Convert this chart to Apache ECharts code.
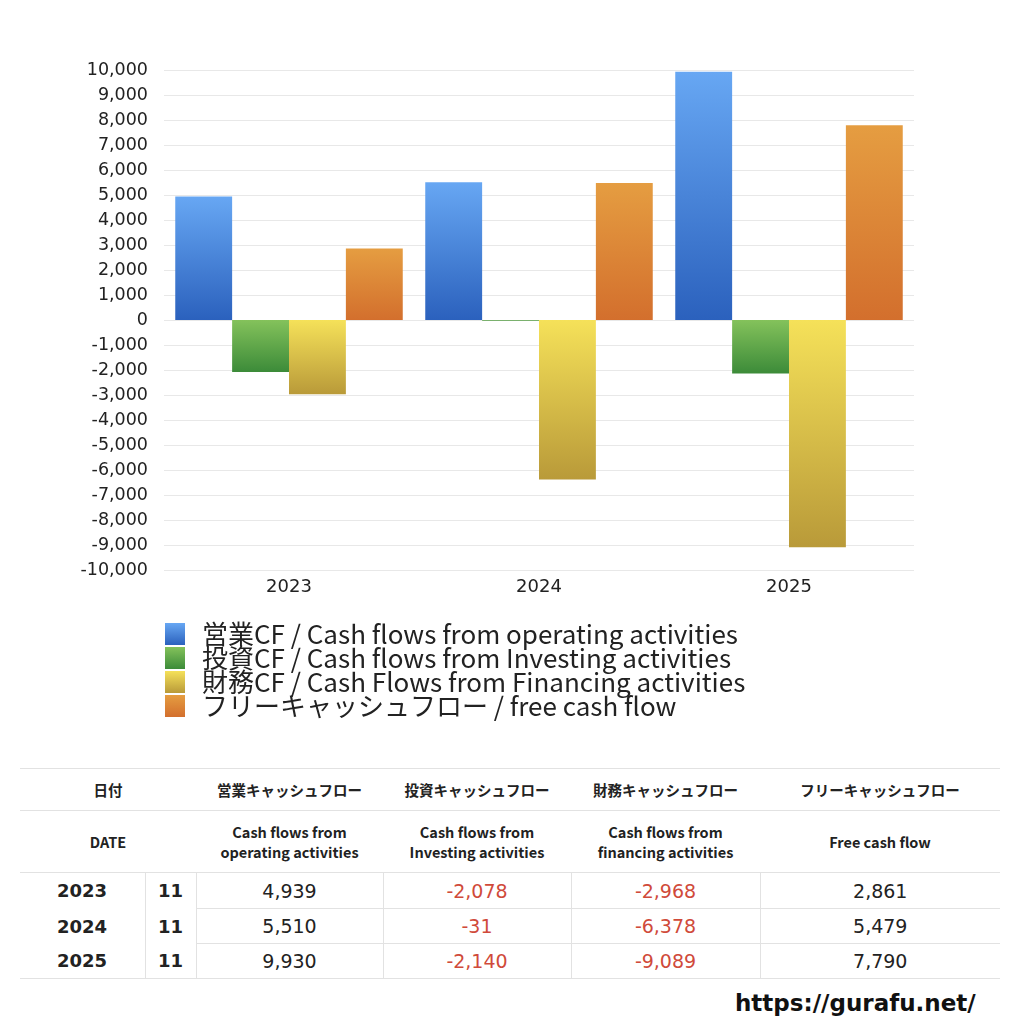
<!DOCTYPE html>
<html>
<head>
<meta charset="utf-8">
<script src="https://cdn.jsdelivr.net/npm/echarts@6/dist/echarts.min.js"></script>
<style>
body{margin:0;background:#fff;font-family:"Noto Sans CJK JP","Noto Sans",sans-serif;}
#main{position:absolute;left:0;top:0;width:1024px;height:745px;}
#tbl{position:absolute;left:20px;top:768px;width:980px;border-collapse:collapse;color:#222;table-layout:fixed;}
#tbl td{text-align:center;padding:0;}
#tbl tr.h td{font-size:14.5px;font-weight:bold;border-top:1px solid #e2e2e2;}
#tbl tr.h1 td{height:41px;}
#tbl tr.h2 td{height:61px;line-height:20px;}
#tbl tr.d td{height:34px;font-size:19px;font-family:"DejaVu Sans",sans-serif;}
#tbl tr.d1 td{height:35px;}
#tbl td.y{font-weight:bold;font-size:18px !important;text-align:left;padding-left:37px;}
#tbl td.m{font-weight:bold;font-size:18px !important;border-left:1px solid #e2e2e2;border-right:1px solid #e2e2e2;}
#tbl td.v{border-top:1px solid #e2e2e2;border-left:1px solid #e2e2e2;}
#tbl td.neg{color:#d04a3a;}
#tbl tr.last td{border-bottom:1px solid #e2e2e2;}
#url{position:absolute;left:735px;top:990px;font-size:23px;font-weight:bold;color:#111;font-family:"DejaVu Sans","Noto Sans",sans-serif;}
</style>
</head>
<body>
<div id="main"></div>
<table id="tbl"></table>
<div id="url">https://gurafu.net/</div>
<script>
// データ
var years = ['2023', '2024', '2025'];
var months = ['11', '11', '11'];
var operating = [4939, 5510, 9930];
var investing = [-2078, -31, -2140];
var financing = [-2968, -6378, -9089];
var freeCF = [2861, 5479, 7790];
var seriesNames = [
    '営業CF / Cash flows from operating activities',
    '投資CF / Cash flows from Investing activities',
    '財務CF / Cash Flows from Financing activities',
    'フリーキャッシュフロー / free cash flow'
];
var headJa = ['営業キャッシュフロー', '投資キャッシュフロー', '財務キャッシュフロー', 'フリーキャッシュフロー'];
var headEn = ['Cash flows from<br>operating activities', 'Cash flows from<br>Investing activities', 'Cash flows from<br>financing activities', 'Free cash flow'];

function grad(c1, c2){
    return new echarts.graphic.LinearGradient(0, 0, 0, 1, [
        {offset: 0, color: c1},
        {offset: 1, color: c2}
    ]);
}
function fmt(v){
    return v.toString().replace(/\B(?=(\d{3})+(?!\d))/g, ',');
}

var colors = [
    grad('#67a7f3', '#2b61bd'),
    grad('#84c25b', '#3c8b39'),
    grad('#f5e159', '#b99a39'),
    grad('#e59d41', '#d36f2d')
];
var values = [operating, investing, financing, freeCF];

var myChart = echarts.init(document.getElementById('main'));
var series = [];
for (var i = 0; i < values.length; i++) {
    series.push({
        name: seriesNames[i],
        type: 'bar',
        data: values[i],
        barGap: '0%',
        barCategoryGap: '9%',
        itemStyle: {color: colors[i]}
    });
}
var option = {
    animation: false,
    textStyle: {fontFamily: '"Noto Sans CJK JP","Noto Sans",sans-serif'},
    grid: {left: 164, right: 110, top: 70, height: 500},
    legend: {
        orient: 'vertical',
        left: 165,
        top: 621,
        padding: 0,
        icon: 'rect',
        itemWidth: 20,
        itemHeight: 22,
        itemGap: -2,
        textStyle: {fontSize: 26, lineHeight: 24, color: '#222', padding: [0, 0, 0, 12]},
        data: seriesNames
    },
    xAxis: {
        type: 'category',
        data: years,
        axisLine: {show: false},
        axisTick: {show: false},
        axisLabel: {fontSize: 18, color: '#222', margin: 8, fontFamily: 'DejaVu Sans'}
    },
    yAxis: {
        type: 'value',
        min: -10000,
        max: 10000,
        interval: 1000,
        axisLine: {show: false},
        axisTick: {show: false},
        axisLabel: {fontSize: 17.5, color: '#222', margin: 16, fontFamily: 'DejaVu Sans', formatter: fmt},
        splitLine: {lineStyle: {color: '#e8e8e8'}}
    },
    series: series
};
myChart.setOption(option);

// 表
var widths = [125, 51, 187, 188, 189, 240];
var html = '<colgroup>';
widths.forEach(function(w){ html += '<col style="width:' + w + 'px">'; });
html += '</colgroup>';
html += '<tr class="h h1"><td colspan="2">日付</td>';
for (var i = 0; i < headJa.length; i++) html += '<td>' + headJa[i] + '</td>';
html += '</tr><tr class="h h2"><td colspan="2">DATE</td>';
for (var i = 0; i < headEn.length; i++) html += '<td>' + headEn[i] + '</td>';
html += '</tr>';
for (var r = 0; r < years.length; r++) {
    html += '<tr class="d' + (r == 0 ? ' d1' : '') + (r == years.length - 1 ? ' last' : '') + '">';
    var topB = r == 0 ? ' style="border-top:1px solid #e2e2e2"' : '';
    html += '<td class="y"' + topB + '>' + years[r] + '</td><td class="m"' + topB + '>' + months[r] + '</td>';
    for (var c = 0; c < values.length; c++) {
        var v = values[c][r];
        html += '<td class="v' + (v < 0 ? ' neg' : '') + '">' + fmt(v) + '</td>';
    }
    html += '</tr>';
}
document.getElementById('tbl').innerHTML = html;
</script>
</body>
</html>
